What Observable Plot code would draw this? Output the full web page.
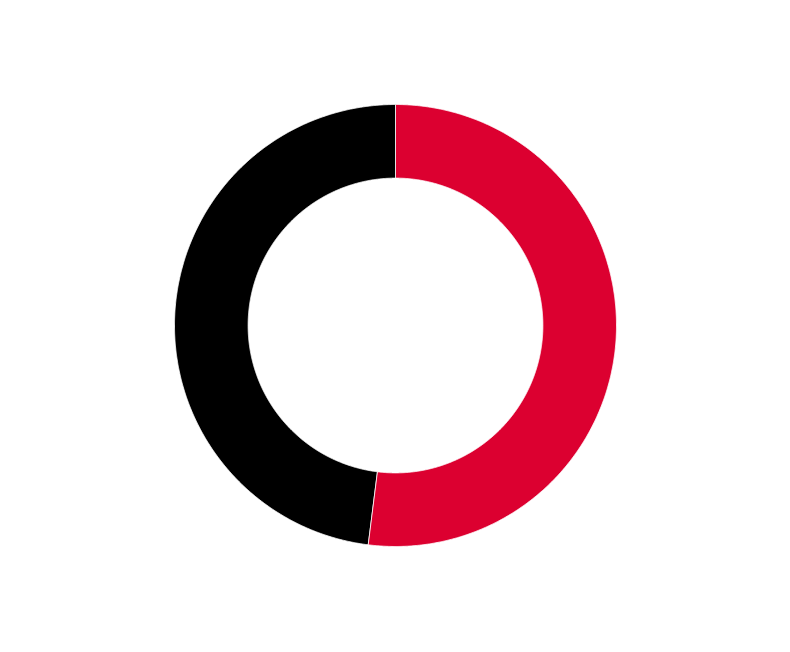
<!DOCTYPE html>
<html>
<head>
<meta charset="utf-8">
<script src="https://cdn.jsdelivr.net/npm/d3@7"></script>
<script src="https://cdn.jsdelivr.net/npm/@observablehq/plot@0.6"></script>
<style>
  html, body { margin: 0; padding: 0; background: #fff; }
  #chart svg { display: block; }
</style>
</head>
<body>
<div id="chart"></div>
<script>
const categories = ["A", "B"];
const values = [52, 48];
const colors = ["#dc0030", "#000000"];
const innerRatio = 0.667;

// Build ring-segment outlines from pie angles (geometry only)
const pie = d3.pie().sort(null).value(d => d.value)(categories.map((c, i) => ({category: c, value: values[i]})));
const outline = [];
for (const s of pie) {
  const n = Math.max(2, Math.ceil((s.endAngle - s.startAngle) / 0.005));
  for (let k = 0; k <= n; k++) {
    const a = s.startAngle + (s.endAngle - s.startAngle) * k / n;
    outline.push({category: s.data.category, x: Math.sin(a), y: Math.cos(a)});
  }
  for (let k = n; k >= 0; k--) {
    const a = s.startAngle + (s.endAngle - s.startAngle) * k / n;
    outline.push({category: s.data.category, x: innerRatio * Math.sin(a), y: innerRatio * Math.cos(a)});
  }
}

const chart = Plot.plot({
  width: 790,
  height: 652,
  margin: 0,
  x: {domain: [-1, 1], range: [174, 616], axis: null},
  y: {domain: [-1, 1], range: [546, 104], axis: null},
  color: {domain: categories, range: colors},
  marks: [
    Plot.line(outline, {
      x: "x", y: "y", z: "category",
      fill: "category",
      stroke: "#ffffff",
      strokeWidth: 0.8,
      curve: "linear-closed"
    })
  ]
});
document.getElementById("chart").appendChild(chart);
</script>
</body>
</html>
